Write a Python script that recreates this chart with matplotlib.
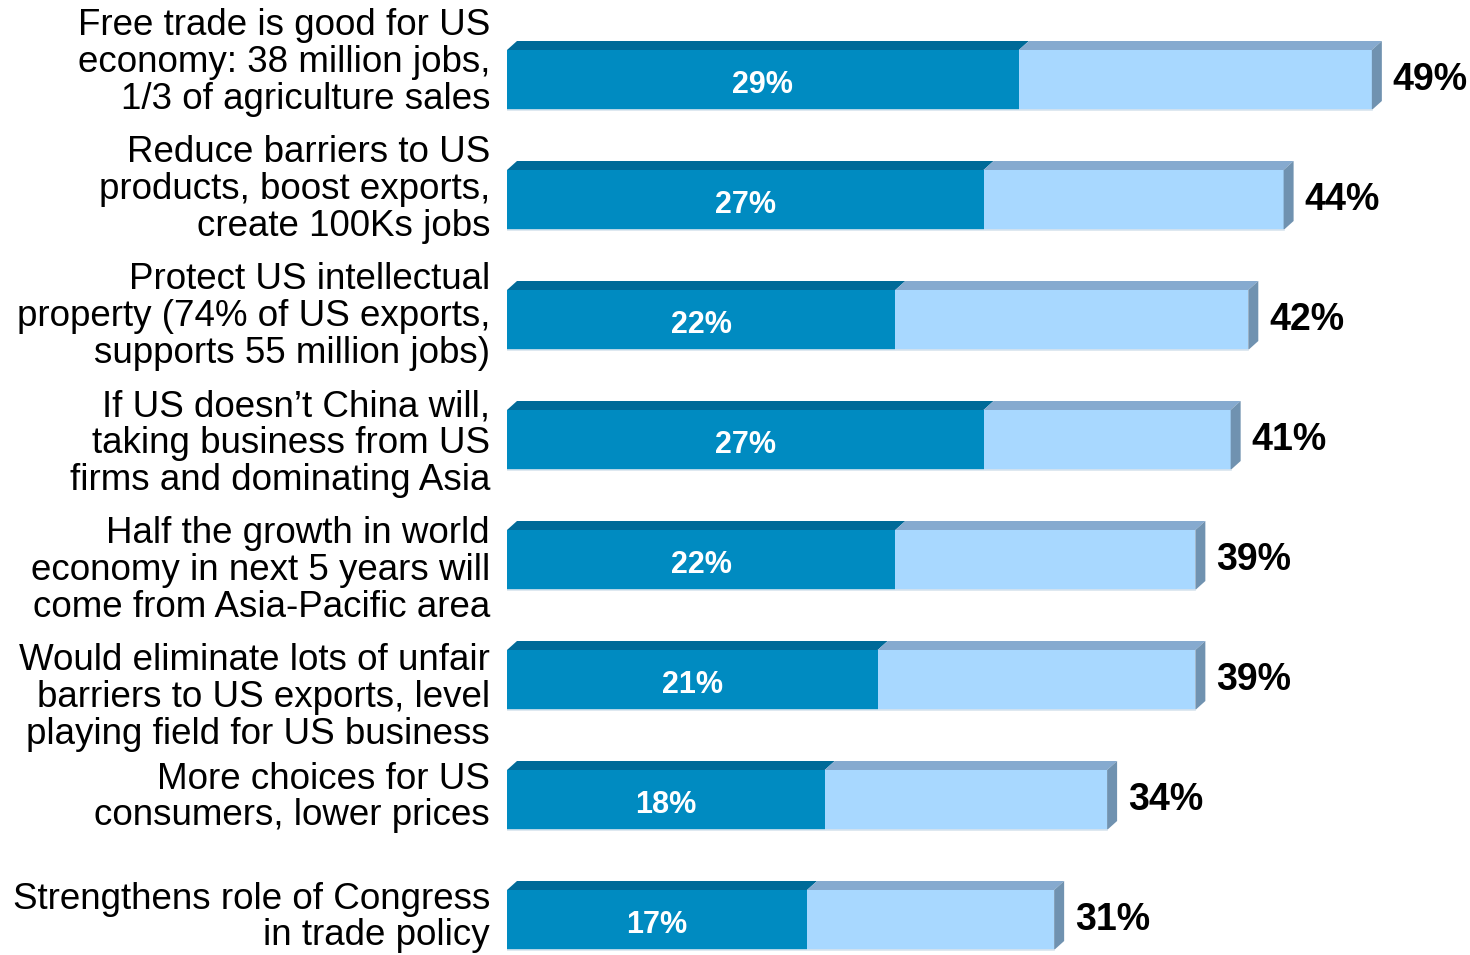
import matplotlib
matplotlib.use("Agg")
import matplotlib.pyplot as plt
from matplotlib.patches import Polygon

plt.rcParams['font.family'] = ['Liberation Sans', 'DejaVu Sans']

# Reasons (top to bottom), "strong" share and total share
reasons = [
    "Free trade is good for US\neconomy: 38 million jobs,\n1/3 of agriculture sales",
    "Reduce barriers to US\nproducts, boost exports,\ncreate 100Ks jobs",
    "Protect US intellectual\nproperty (74% of US exports,\nsupports 55 million jobs)",
    "If US doesn\u2019t China will,\ntaking business from US\nfirms and dominating Asia",
    "Half the growth in world\neconomy in next 5 years will\ncome from Asia-Pacific area",
    "Would eliminate lots of unfair\nbarriers to US exports, level\nplaying field for US business",
    "More choices for US\nconsumers, lower prices",
    "Strengthens role of Congress\nin trade policy",
]
strong = [29, 27, 22, 27, 22, 21, 18, 17]
total = [49, 44, 42, 41, 39, 39, 34, 31]

dark_front = "#008bc1"
dark_top = "#006a98"
light_front = "#a8d8ff"
light_top = "#86aacf"
side_col = "#7092b0"

W, H = 1470, 955
fig = plt.figure(figsize=(W / 100, H / 100), dpi=100)
x0 = 507
px_per_pct = 17.65
ax = fig.add_axes([x0 / W, 0, (W - x0) / W, 1])
ax.set_xlim(0, (W - x0) / px_per_pct)
pitch = 120
top_off = 80 / pitch
ax.set_ylim(-top_off + H / pitch, -top_off)
ax.axis("off")

h = 0.5
dx = 10 / px_per_pct
dy = 9 / pitch

for i, (s, t, lab) in enumerate(zip(strong, total, reasons)):
    rest = t - s
    ax.barh(i, s, height=h, color=dark_front, edgecolor="none")
    ax.barh(i, rest, left=s, height=h, color=light_front, edgecolor="none")
    top = i - h / 2
    bot = i + h / 2
    # top faces
    ax.add_patch(Polygon([(0, top), (dx, top - dy), (s + dx, top - dy), (s, top)],
                         closed=True, color=dark_top, lw=0))
    ax.add_patch(Polygon([(s, top), (s + dx, top - dy), (t + dx, top - dy), (t, top)],
                         closed=True, color=light_top, lw=0))
    # side face
    ax.add_patch(Polygon([(t, top), (t + dx, top - dy), (t + dx, bot - dy), (t, bot)],
                         closed=True, color=side_col, lw=0))
    # bottom edge
    ax.plot([0, t], [bot, bot], color="#d8e4ee", lw=1.2)
    ax.text(s / 2, i + 0.04, f"{s}%", ha="center", va="center",
            color="white", fontsize=22, fontweight="bold")
    ax.text(t + dx + 0.6, i, f"{t}%", ha="left", va="center",
            color="black", fontsize=27, fontweight="bold")
    # three-line labels sit on a slightly wider grid than the bars
    if lab.count("\n") == 2:
        ly = i + (i - 2.5) * 7 / pitch
    else:
        ly = i - 0.02
    ax.text(-17 / px_per_pct, ly, lab, ha="right", va="center",
            fontsize=26.5, linespacing=1.06, clip_on=False)

fig.savefig("out.png", dpi=100)
